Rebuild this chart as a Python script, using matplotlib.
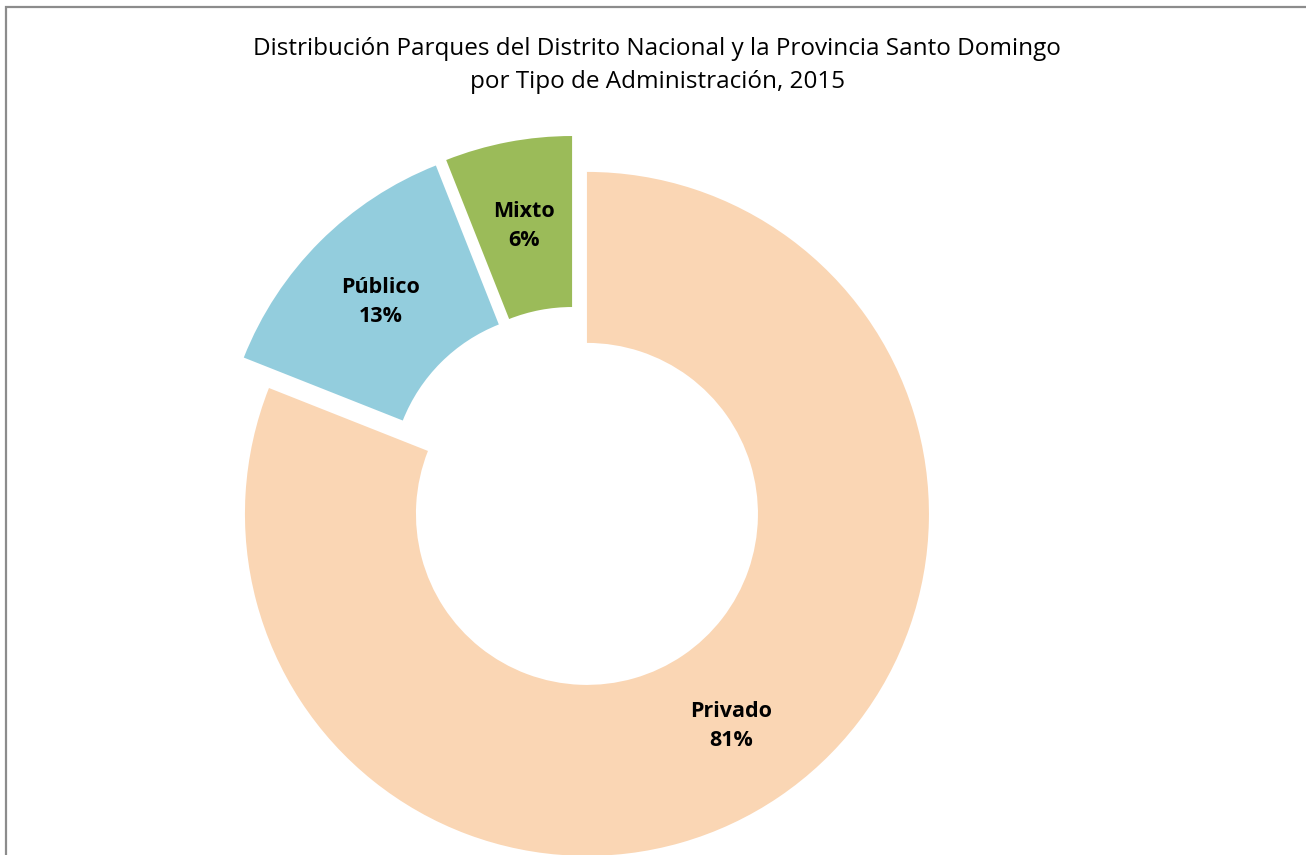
import matplotlib
matplotlib.use("Agg")
import matplotlib.pyplot as plt
from matplotlib.patches import Rectangle

categories = ["Privado", "Público", "Mixto"]
values = [81, 13, 6]
colors = ["#FAD6B4", "#93CDDD", "#9BBB59"]
explode = [0.058, 0.058, 0.058]
title_lines = ["Distribución Parques del Distrito Nacional y la Provincia Santo Domingo",
               "por Tipo de Administración, 2015"]

W, H = 1306, 855
fig = plt.figure(figsize=(W / 100, H / 100), dpi=100)
fig.patch.set_facecolor("white")

# pie axes in pixel-consistent units (1 unit = radius)
R = 342.0
cx, cy = 575.8, 497.5
ax = fig.add_axes([0, 0, 1, 1])
ax.axis("off")

labels = [f"{c}\n{v}%" for c, v in zip(categories, values)]
wedges, texts = ax.pie(values, labels=labels, colors=colors, explode=explode,
                       startangle=90, counterclock=False, radius=1.0,
                       labeldistance=0.75,
                       wedgeprops=dict(width=0.5, edgecolor="none"),
                       textprops=dict(fontsize=15.5, fontweight="bold",
                                      family="Open Sans", color="black",
                                      linespacing=1.5))
for t in texts:
    t.set_ha("center")
    t.set_va("center")
ax.set_xlim(-cx / R, (W - cx) / R)
ax.set_ylim(-(H - cy) / R, cy / R)
ax.set_aspect("auto")

# title
fig.text(657 / W, 1 - 49 / H, title_lines[0], ha="center", va="center",
         fontsize=17.5, family="Open Sans", color="black")
fig.text(657 / W, 1 - 82 / H, title_lines[1], ha="center", va="center",
         fontsize=17.5, family="Open Sans", color="black")

# chart frame
fig.patches.append(Rectangle((6 / W, -0.05), 1.1, (H - 7) / H + 0.05,
                             transform=fig.transFigure, fill=False,
                             edgecolor="#8C8C8C", linewidth=1.6))

# cut-off caption at top-left (only its lower edge shows, as in the reference)
fig.text(2 / W, 1 + 4.6 / H, "Gráfico 14:", ha="left", va="center",
         fontsize=14, family="Open Sans", color="#4F4FEF")

fig.savefig("out.png", dpi=100)
